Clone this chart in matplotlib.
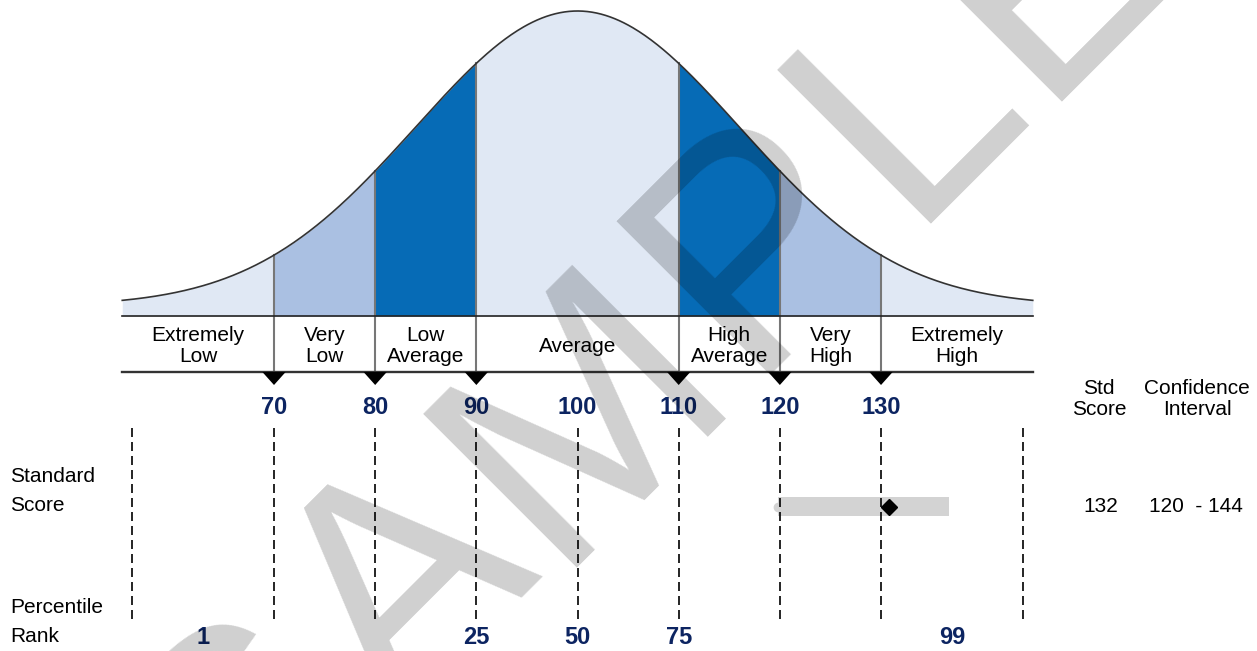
import numpy as np
import matplotlib
matplotlib.use("Agg")
import matplotlib.pyplot as plt

plt.rcParams['font.family'] = ['Liberation Sans', 'DejaVu Sans']

## chart values
band_edges = [55, 70, 80, 90, 110, 120, 130, 145]
band_names = ['Extremely\nLow', 'Very\nLow', 'Low\nAverage', 'Average',
              'High\nAverage', 'Very\nHigh', 'Extremely\nHigh']
band_colors = ['#e0e8f4', '#aac0e2', '#066bb6', '#e0e8f4',
               '#066bb6', '#aac0e2', '#e0e8f4']
score_ticks = [70, 80, 90, 100, 110, 120, 130]
guide_lines = [56, 70, 80, 90, 100, 110, 120, 130, 144]
pct_labels = ['1', '25', '50', '75', '99']
pct_pos = [63, 90, 100, 110, 137]
std_score = 132
ci_low, ci_high = 120, 144
bar_span = (119.8, 136.7)   # grey bar as drawn
marker_pos = 130.8

## bell curve shape
mean, sd = 100, 16
curve_floor, curve_peak = 10, 295

navy = '#0c2461'
W, H = 1257, 651
px_per_pt = 10.117
x0 = 70 - 274 / px_per_pt   # score at left edge of picture


def px2x(px):
    return x0 + px / px_per_pt


def curve_y(s):
    return 316 - (curve_floor + curve_peak * np.exp(-0.5 * ((s - mean) / sd) ** 2))


fig = plt.figure(figsize=(W / 100, H / 100), dpi=100)
ax = fig.add_axes([0, 0, 1, 1])
ax.set_xlim(px2x(0), px2x(W))
ax.set_ylim(H, 0)
ax.axis('off')

base_y, band_y = 316, 372

# shaded bands under the curve
for lo, hi, c in zip(band_edges[:-1], band_edges[1:], band_colors):
    xs = np.linspace(lo, hi, 120)
    ax.fill_between(xs, curve_y(xs), base_y, color=c, lw=0, zorder=1)

xs = np.linspace(band_edges[0], band_edges[-1], 600)
ax.plot(xs, curve_y(xs), color='#333333', lw=1.2, zorder=3)

for e in band_edges[1:-1]:
    ax.plot([e, e], [curve_y(e), band_y], color='#777777', lw=1.5, zorder=2)
    ax.fill([e - 1.15, e + 1.15, e], [band_y, band_y, band_y + 13],
            color='black', lw=0, zorder=4)

ax.plot([band_edges[0], band_edges[-1]], [base_y, base_y], color='#222222', lw=1.2, zorder=3)
ax.plot([band_edges[0], band_edges[-1]], [band_y, band_y], color='#333333', lw=1.7, zorder=3)

for lo, hi, name in zip(band_edges[:-1], band_edges[1:], band_names):
    ax.text((lo + hi) / 2, 346, name, ha='center', va='center',
            fontsize=15, linespacing=1.09, zorder=5)

for s in score_ticks:
    ax.text(s, 407, str(s), ha='center', va='center', fontsize=17,
            fontweight='bold', color=navy, zorder=5)

for g in guide_lines:
    ax.plot([g, g], [428, 620], color='black', lw=1.2, dashes=(5.4, 3), zorder=2)

for p, lab in zip(pct_pos, pct_labels):
    ax.text(p, 638, lab, ha='center', va='center', fontsize=17,
            fontweight='bold', color=navy, zorder=5)

ax.text(px2x(10), 491, 'Standard\nScore', ha='left', va='center', fontsize=15, linespacing=1.62)
ax.text(px2x(10), 622, 'Percentile\nRank', ha='left', va='center', fontsize=15, linespacing=1.72)

# confidence band
ax.fill_between([bar_span[0], bar_span[1]], 497, 516, color='#d3d3d3', lw=0, zorder=1)
ax.plot([bar_span[0]], [507], marker='o', color='#d3d3d3', ms=6, zorder=1)
ax.plot([marker_pos], [507], marker='D', color='black', ms=8.5, zorder=6)

ax.text(px2x(1099), 399, 'Std\nScore', ha='center', va='center', fontsize=15, linespacing=1.19)
ax.text(px2x(1197), 399, 'Confidence\nInterval', ha='center', va='center', fontsize=15, linespacing=1.19)
ax.text(px2x(1101), 507, str(std_score), ha='center', va='center', fontsize=15)
ax.text(px2x(1196), 507, '%d  - %d' % (ci_low, ci_high), ha='center', va='center', fontsize=15)

# watermark, one letter at a time
wm = [('S', 239, 880), ('A', 395, 724), ('M', 551, 568),
      ('P', 744, 375), ('L', 905, 224), ('E', 1036, 102)]
for ch, px, py in wm:
    ax.text(px2x(px), py, ch, fontsize=227, rotation=45, rotation_mode='anchor',
            ha='left', va='baseline', color='black', alpha=0.19, zorder=10)

fig.savefig('out.png', dpi=100)
